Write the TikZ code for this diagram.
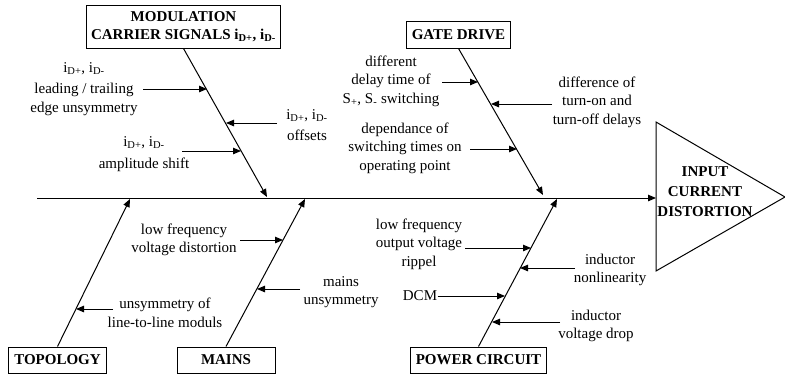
\documentclass[tikz,border=0pt]{standalone}
\usepackage{fontspec}
\setmainfont{Liberation Serif}
\usetikzlibrary{arrows.meta}

\begin{document}
\begin{tikzpicture}[x=1pt, y=-1pt, line width=1pt,
            every node/.style={font=\fontsize{15}{18.5}\selectfont},
            cause/.style={draw, rectangle, font=\fontsize{15}{18}\selectfont\bfseries, minimum width=98pt, minimum height=26pt, inner xsep=5pt, align=center},
            note/.style={align=center, inner sep=0pt},
            arrow/.style={-{Triangle[length=8pt, width=6.5pt]}}]

            \useasboundingbox (0,0) rectangle (785,378);

            \node[cause, minimum width=191pt, minimum height=43pt] (modulation) at (183.5,26.5) {MODULATION\\CARRIER SIGNALS i\textsubscript{D+}, i\textsubscript{D-}};
            \node[cause, minimum width=103pt, minimum height=27pt] (gate) at (458.5,34.5) {GATE DRIVE};
            \node[cause] (topology) at (57.5,360) {TOPOLOGY};
            \node[cause] (mains) at (226,360) {MAINS};
            \node[cause, minimum width=133pt] (power) at (478.5,360) {POWER CIRCUIT};

            \draw (656,122) -- (785,197) -- (656,271) -- cycle;
            \node[note, font=\fontsize{15}{20}\selectfont\bfseries] (distortion) at (705,192) {INPUT\\CURRENT\\DISTORTION};

            \coordinate (spine) at (37,198);
            \coordinate (effect) at (656,198);
            \coordinate (modhead) at (267,197);
            \coordinate (gatehead) at (543,195);
            \coordinate (topohead) at (130,199);
            \coordinate (mainshead) at (305,199);
            \coordinate (powerhead) at (557,199);

            \draw[arrow] (spine) -- (effect);
            \draw[arrow] (modulation.south) -- (modhead);
            \draw[arrow] (gate.south) -- (gatehead);
            \draw[arrow] (topology.north) -- (topohead);
            \draw[arrow] (mains.north) -- (mainshead);
            \draw[arrow] (power.north) -- (powerhead);

            \node[note] (edge) at (84,89) {i\textsubscript{D+}, i\textsubscript{D-}\\[3pt]leading / trailing\\edge unsymmetry};
            \node[note] (offsets) at (307,125) {i\textsubscript{D+}, i\textsubscript{D-}\\[2pt]offsets};
            \node[note] (amplitude) at (144,154) {i\textsubscript{D+}, i\textsubscript{D-}\\[3pt]amplitude shift};
            \node[note] (delay) at (391,81) {different\\delay time of\\S\textsubscript{+}, S\textsubscript{-} switching};
            \node[note] (turnon) at (597,102) {difference of\\turn-on and\\turn-off delays};
            \node[note] (depend) at (405,148) {dependance of\\switching times on\\operating point};
            \node[note] (moduls) at (165,313) {unsymmetry of\\line-to-line moduls};
            \node[note] (lowfreq) at (184,240) {low frequency\\voltage distortion};
            \node[note] (unsym) at (341,292) {mains\\unsymmetry};
            \node[note] (rippel) at (419,244) {low frequency\\output voltage\\rippel};
            \node[note] (nonlin) at (610,270) {inductor\\nonlinearity};
            \node[note] (dcm) at (420,296) {DCM};
            \node[note] (drop) at (596,326) {inductor\\voltage drop};

            \coordinate (edgetail) at (143,89);
            \coordinate (edgehead) at (207,89);
            \coordinate (offsetstail) at (277,123);
            \coordinate (offsetshead) at (226,123);
            \coordinate (amplitudetail) at (182,151);
            \coordinate (amplitudehead) at (241,151);
            \coordinate (delaytail) at (442,82);
            \coordinate (delayhead) at (478,82);
            \coordinate (turnontail) at (552,104);
            \coordinate (turnonhead) at (491,104);
            \coordinate (dependtail) at (470,149);
            \coordinate (dependhead) at (517,149);
            \coordinate (modulstail) at (113,309);
            \coordinate (modulshead) at (76,309);
            \coordinate (lowfreqtail) at (240,240);
            \coordinate (lowfreqhead) at (283,240);
            \coordinate (unsymtail) at (300,289);
            \coordinate (unsymhead) at (257,289);
            \coordinate (rippeltail) at (465,248);
            \coordinate (rippelhead) at (531,248);
            \coordinate (nonlintail) at (575,268);
            \coordinate (nonlinhead) at (520,268);
            \coordinate (dcmhead) at (505,296);
            \coordinate (droptail) at (560,322);
            \coordinate (drophead) at (492,322);

            \draw[arrow] (edgetail) -- (edgehead);
            \draw[arrow] (offsetstail) -- (offsetshead);
            \draw[arrow] (amplitudetail) -- (amplitudehead);
            \draw[arrow] (delaytail) -- (delayhead);
            \draw[arrow] (turnontail) -- (turnonhead);
            \draw[arrow] (dependtail) -- (dependhead);
            \draw[arrow] (modulstail) -- (modulshead);
            \draw[arrow] (lowfreqtail) -- (lowfreqhead);
            \draw[arrow] (unsymtail) -- (unsymhead);
            \draw[arrow] (rippeltail) -- (rippelhead);
            \draw[arrow] (nonlintail) -- (nonlinhead);
            \draw[arrow] (dcm) -- (dcmhead);
            \draw[arrow] (droptail) -- (drophead);
        \end{tikzpicture}
\end{document}
